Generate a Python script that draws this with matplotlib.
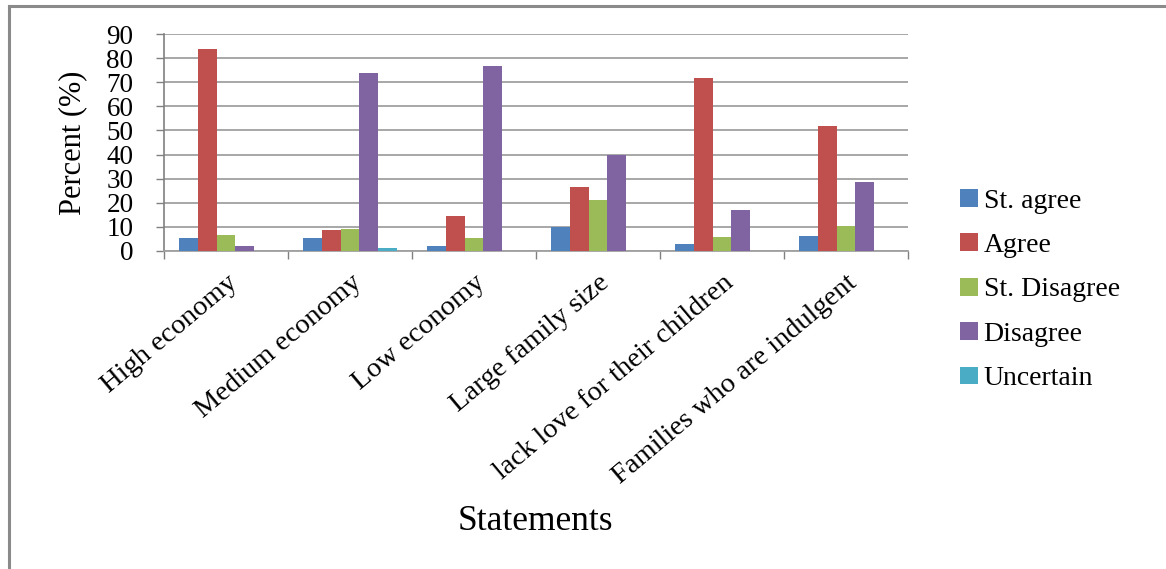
import matplotlib
matplotlib.use("Agg")
import matplotlib.pyplot as plt
import numpy as np
from matplotlib.lines import Line2D

categories = ["High economy", "Medium economy", "Low economy", "Large family size",
              "lack love for their children", "Families who are indulgent"]
series_names = ["St. agree", "Agree", "St. Disagree", "Disagree", "Uncertain"]
st_agree = [5.3, 5.3, 2.0, 9.8, 2.8, 6.4]
agree = [83.7, 8.7, 14.7, 26.7, 71.6, 51.9]
st_disagree = [6.6, 9.0, 5.3, 21.2, 5.9, 10.5]
disagree = [2.1, 73.7, 76.8, 39.7, 17.0, 28.8]
uncertain = [0.0, 1.1, 0.0, 0.0, 0.0, 0.0]
yticks = [0, 10, 20, 30, 40, 50, 60, 70, 80, 90]

colors = ["#4F81BD", "#C0504D", "#9BBB59", "#8064A2", "#4BACC6"]
data = [st_agree, agree, st_disagree, disagree, uncertain]

plt.rcParams['font.family'] = ['Liberation Serif', 'DejaVu Serif']

fig = plt.figure(figsize=(11.66, 5.69), dpi=100)
ax = fig.add_axes([164/1166, 1-251/569, (908-164)/1166, (251-34)/569])

x = np.arange(len(categories))
w = 0.153
n = len(data)
for i, (vals, c, name) in enumerate(zip(data, colors, series_names)):
    ax.bar(x + (i - (n-1)/2)*w, vals, width=w, color=c, label=name, zorder=3)

ax.set_xlim(-0.5, len(categories)-0.5)
ax.set_ylim(0, 90)
ax.set_yticks(yticks)
ax.set_yticklabels([str(v) for v in yticks], fontsize=19.5)
ax.yaxis.grid(True, color="#a0a0a0", linewidth=1.3, zorder=0)
ax.set_axisbelow(True)

ax.set_xticks(np.arange(-0.5, len(categories)), minor=False)
ax.set_xticklabels([])
ax.set_xticks(x, minor=True)
ax.set_xticklabels(categories, minor=True, rotation=40, ha='right',
                   rotation_mode='anchor', fontsize=20.5)
ax.tick_params(axis='x', which='minor', length=0, pad=14)
ax.tick_params(axis='x', which='major', length=6, color="#808080", width=1)
ax.tick_params(axis='y', length=6, color="#808080", width=1, pad=16)

for s in ['top', 'right']:
    ax.spines[s].set_visible(False)
ax.spines['left'].set_color("#808080")
ax.spines['bottom'].set_color("#a0a0a0")
ax.spines['left'].set_linewidth(1.2)
ax.spines['bottom'].set_linewidth(1.3)

ax.set_ylabel("Percent (%)", fontsize=22, labelpad=14)
fig.text(535/1166, 1-522/569, "Statements", fontsize=25.5, ha='center', va='center')

leg = ax.legend(loc='center left', bbox_to_anchor=(935/1166, 1-290/569),
                bbox_transform=fig.transFigure, frameon=False, fontsize=20,
                handlelength=0.65, handleheight=0.6, handletextpad=0.2,
                labelspacing=0.7)

fig.add_artist(Line2D([9/1166, 9/1166], [0, 1-6/569], transform=fig.transFigure,
                      color="#8a8a8a", linewidth=2.2))
fig.add_artist(Line2D([9/1166, 1], [1-6/569, 1-6/569], transform=fig.transFigure,
                      color="#8a8a8a", linewidth=2.2))

fig.savefig("out.png", dpi=100)
